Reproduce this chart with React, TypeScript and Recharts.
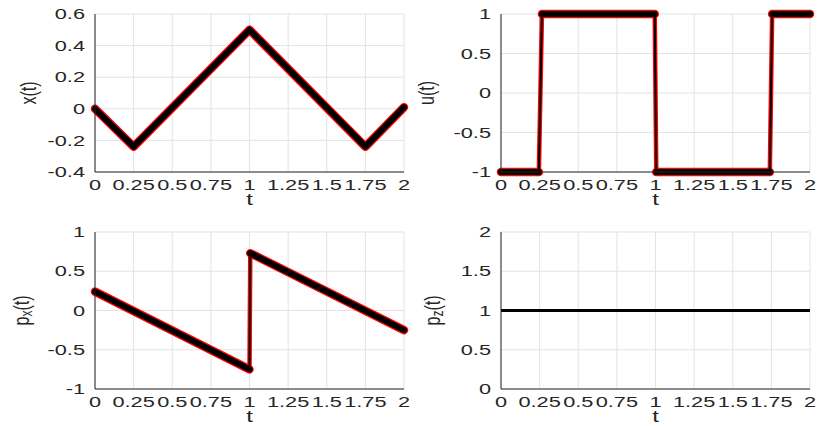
import React from 'react';
import { LineChart, Line, XAxis, YAxis, CartesianGrid } from 'recharts';

// time axis shared by all four panels
const tTicks = [0, 0.25, 0.5, 0.75, 1, 1.25, 1.5, 1.75, 2];

// x(t)
const xTimes = [0, 0.25, 1, 1.75, 2];
const xValues = [0, -0.24, 0.5, -0.24, 0.01];
const xTicks = [-0.4, -0.2, 0, 0.2, 0.4, 0.6];

// u(t) - bang-bang control, switches are the thin segments
const uTimes = [0, 0.245, 0.265, 0.995, 1.005, 1.74, 1.755, 2];
const uValues = [-1, -1, 1, 1, -1, -1, 1, 1];
const uJumps = [1, 3, 5];
const uTicks = [-1, -0.5, 0, 0.5, 1];

// p_x(t)
const pxTimes = [0, 1, 1.005, 2];
const pxValues = [0.24, -0.75, 0.73, -0.25];
const pxJumps = [1];
const pxTicks = [-1, -0.5, 0, 0.5, 1];

// p_z(t)
const pzTimes = [0, 2];
const pzValues = [1, 1];
const pzTicks = [0, 0.5, 1, 1.5, 2];

const FONT = '"Liberation Sans", Arial, sans-serif';
const INK = '#262626';
const GRID = '#e3e3e3';
const RED = '#ff0000';
// the reference figure is stretched sideways, text included
const SX = 1.5;

type Plot = { x0: number; x1: number; y0: number; y1: number };

interface PanelProps {
  left: number;
  top: number;
  width: number;
  height: number;
  plot: Plot;
  times: number[];
  values: number[];
  jumps?: number[];
  band?: boolean;
  yTicks: number[];
  labelX: number;
  name: string;
  sub?: string;
}

const Panel = ({ left, top, width, height, plot, times, values, jumps = [], band = true, yTicks, labelX, name, sub }: PanelProps) => {
  const rows = times.map((t, i) => ({ t, v: values[i] }));

  // split the trace at the switches so only the sampled stretches get the thick band
  const segments: { t: number; v: number }[][] = [];
  let cur = [rows[0]];
  for (let i = 0; i < rows.length - 1; i++) {
    if (jumps.includes(i)) {
      segments.push(cur);
      cur = [rows[i + 1]];
    } else {
      cur.push(rows[i + 1]);
    }
  }
  segments.push(cur);

  const midY = (plot.y0 + plot.y1) / 2;
  const midX = (plot.x0 + plot.x1) / 2;

  const XTick = ({ x, y, payload }: any) => (
    <text
      transform={`translate(${x},${y + 17.5}) scale(${SX},1)`}
      textAnchor="middle"
      fill={INK}
      fontSize={14.5}
      fontFamily={FONT}
    >
      {String(payload.value)}
    </text>
  );
  const YTick = ({ x, y, payload }: any) => (
    <text
      transform={`translate(${x - 10},${y + 5.2}) scale(${SX},1)`}
      textAnchor="end"
      fill={INK}
      fontSize={14.5}
      fontFamily={FONT}
    >
      {String(payload.value)}
    </text>
  );

  const yLabel = () => (
    <text
      transform={`translate(${labelX},${midY}) scale(1.35,1) rotate(-90)`}
      textAnchor="middle"
      dominantBaseline="central"
      fill={INK}
      fontSize={16}
      fontFamily={FONT}
    >
      {sub ? (
        <>
          <tspan>{name}</tspan>
          <tspan dy={4} fontSize={12}>{sub}</tspan>
          <tspan dy={-4}>(t)</tspan>
        </>
      ) : (
        <tspan>{name}(t)</tspan>
      )}
    </text>
  );

  const xLabel = () => (
    <text
      transform={`translate(${midX},${plot.y1 + 33}) scale(${SX},1)`}
      textAnchor="middle"
      fill={INK}
      fontSize={16}
      fontFamily={FONT}
    >
      t
    </text>
  );

  return (
    <div style={{ position: 'absolute', left, top, width, height }}>
      <LineChart
        width={width}
        height={height}
        data={rows}
        margin={{ top: plot.y0, right: width - plot.x1, bottom: height - plot.y1 - 30, left: plot.x0 - 50 }}
      >
        <CartesianGrid stroke={GRID} strokeWidth={1} />
        <XAxis
          dataKey="t"
          type="number"
          domain={[0, 2]}
          ticks={tTicks}
          height={30}
          tickLine={false}
          tickSize={0}
          tickMargin={0}
          interval={0}
          axisLine={{ stroke: INK, strokeWidth: 1 }}
          tick={<XTick />}
          label={xLabel}
        />
        <YAxis
          type="number"
          domain={[yTicks[0], yTicks[yTicks.length - 1]]}
          ticks={yTicks}
          width={50}
          tickLine={false}
          tickSize={0}
          tickMargin={0}
          interval={0}
          axisLine={{ stroke: INK, strokeWidth: 1 }}
          tick={<YTick />}
          label={yLabel}
        />
        {band &&
          segments.map((seg, i) => (
            <Line
              key={`r${i}`}
              data={seg}
              dataKey="v"
              stroke={RED}
              strokeWidth={8.5}
              strokeLinecap="round"
              strokeLinejoin="round"
              dot={false}
              isAnimationActive={false}
            />
          ))}
        {band && (
          <Line dataKey="v" stroke={RED} strokeWidth={4.5} dot={false} isAnimationActive={false} />
        )}
        {band &&
          segments.map((seg, i) => (
            <Line
              key={`k${i}`}
              data={seg}
              dataKey="v"
              stroke="#000000"
              strokeWidth={6}
              strokeLinecap="round"
              strokeLinejoin="round"
              dot={false}
              isAnimationActive={false}
            />
          ))}
        <Line dataKey="v" stroke="#000000" strokeWidth={band ? 2 : 3} dot={false} isAnimationActive={false} />
      </LineChart>
    </div>
  );
};

export default function App() {
  return (
    <div style={{ position: 'absolute', left: 0, top: 0, width: 817, height: 426, background: '#ffffff' }}>
      <Panel
        left={0}
        top={0}
        width={410}
        height={215}
        plot={{ x0: 95, x1: 404, y0: 14, y1: 172 }}
        times={xTimes}
        values={xValues}
        yTicks={xTicks}
        labelX={28}
        name="x"
      />
      <Panel
        left={410}
        top={0}
        width={407}
        height={215}
        plot={{ x0: 91, x1: 400, y0: 14, y1: 172 }}
        times={uTimes}
        values={uValues}
        jumps={uJumps}
        yTicks={uTicks}
        labelX={16}
        name="u"
      />
      <Panel
        left={0}
        top={215}
        width={410}
        height={211}
        plot={{ x0: 95, x1: 404, y0: 17, y1: 174 }}
        times={pxTimes}
        values={pxValues}
        jumps={pxJumps}
        yTicks={pxTicks}
        labelX={21}
        name="p"
        sub="x"
      />
      <Panel
        left={410}
        top={215}
        width={407}
        height={211}
        plot={{ x0: 91, x1: 400, y0: 17, y1: 174 }}
        times={pzTimes}
        values={pzValues}
        band={false}
        yTicks={pzTicks}
        labelX={22}
        name="p"
        sub="z"
      />
    </div>
  );
}
